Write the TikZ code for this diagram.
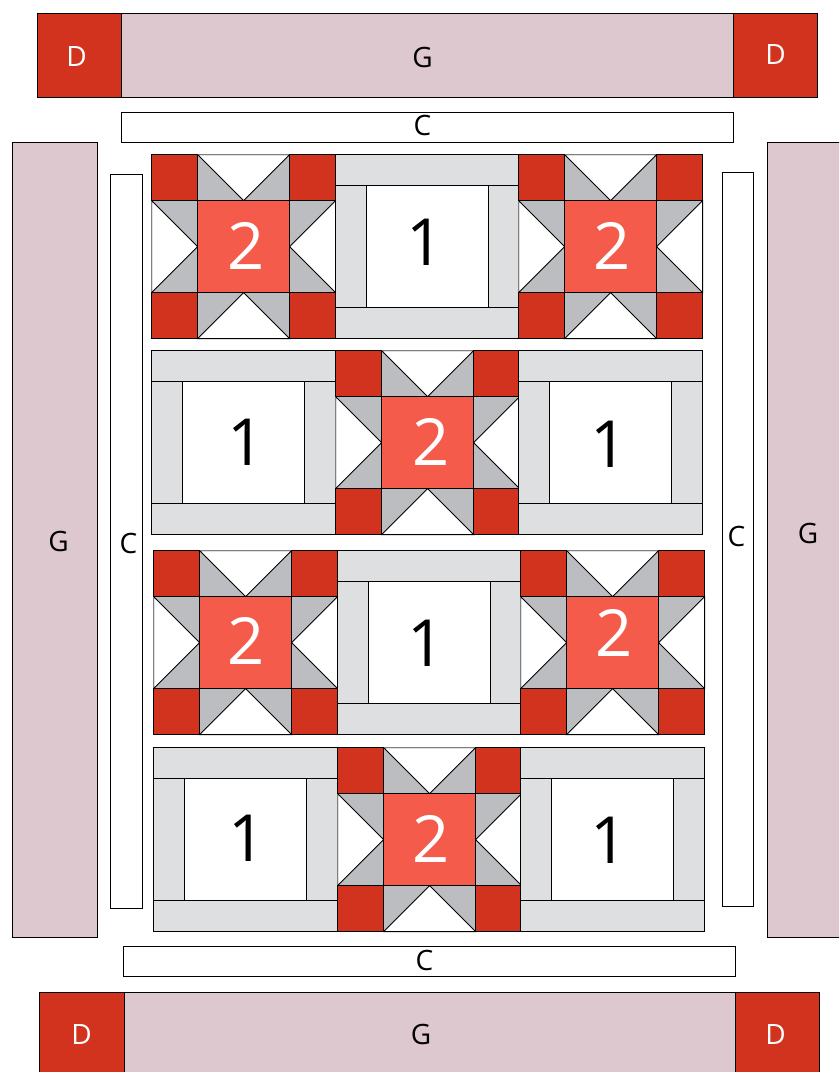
\documentclass[tikz,border=0pt]{standalone}
\usepackage{fontspec}
\setmainfont{Open Sans}
\definecolor{qred}{HTML}{D1331F}
\definecolor{qcoral}{HTML}{F45B4B}
\definecolor{qgray}{HTML}{BCBDC0}
\definecolor{qlight}{HTML}{DDDFE1}
\definecolor{qpink}{HTML}{DDC8D0}
\definecolor{qedge}{HTML}{808080}
\tikzset{
  patch/.style={draw=black,line width=0.85pt,line join=miter},
  redp/.style={patch,fill=qred},
  coralp/.style={patch,fill=qcoral},
  grayp/.style={patch,fill=qgray},
  lightp/.style={patch,fill=qlight},
  pinkp/.style={patch,fill=qpink},
  whitep/.style={patch,fill=white},
  softedge/.style={draw=qedge,line width=0.85pt},
  lab/.style={inner sep=0pt,font=\fontsize{28}{28}\selectfont,text=black},
  labw/.style={lab,text=white},
  big/.style={inner sep=0pt,font=\fontsize{65}{65}\selectfont},
  bigk/.style={big,text=black},
  bigw/.style={big,text=white},
}
% star block: #1 left, #2 top (px, y down)
\newcommand{\starblock}[2]{%
  \begin{scope}[shift={(#1-0.4,-#2+0.4)}]
    \draw[grayp] (46,0) rectangle (138,-46);
    \draw[grayp] (46,-138) rectangle (138,-184);
    \draw[grayp] (0,-46) rectangle (46,-138);
    \draw[grayp] (138,-46) rectangle (184,-138);
    \draw[whitep] (46,0) -- (138,0) -- (92,-46) -- cycle;
    \draw[whitep] (46,-184) -- (138,-184) -- (92,-138) -- cycle;
    \draw[whitep] (0,-46) -- (0,-138) -- (46,-92) -- cycle;
    \draw[whitep] (184,-46) -- (184,-138) -- (138,-92) -- cycle;
    \draw[softedge] (46,0) -- (138,0);
    \draw[softedge] (0,-46) -- (0,-138);
    \draw[coralp] (46,-46) rectangle (138,-138);
    \draw[redp] (0,0) rectangle (46,-46);
    \draw[redp] (138,0) rectangle (184,-46);
    \draw[redp] (0,-138) rectangle (46,-184);
    \draw[redp] (138,-138) rectangle (184,-184);
  \end{scope}}
% frame block
\newcommand{\frameblock}[2]{%
  \begin{scope}[shift={(#1-0.4,-#2+0.4)}]
    \draw[lightp] (0,-30.5) rectangle (30.5,-153);
    \draw[lightp] (153,-30.5) rectangle (184,-153);
    \draw[lightp] (0,0) rectangle (184,-30.5);
    \draw[lightp] (0,-153) rectangle (184,-184);
    \draw[whitep] (30.5,-30.5) rectangle (153,-153);
  \end{scope}}
\begin{document}
\begin{tikzpicture}[x=1pt,y=1pt]
\clip (0,0) rectangle (839,-1072);
\fill[white] (0,0) rectangle (839,-1072);
% top border
\draw[pinkp] (121,-13) rectangle (733,-97);
\draw[redp] (37,-13) rectangle (121,-97);
\draw[redp] (733,-13) rectangle (817,-97);
\draw[whitep] (121,-112) rectangle (733,-142);
% side borders
\draw[pinkp] (12,-142) rectangle (97,-937);
\draw[whitep] (110,-174) rectangle (142,-908);
\draw[whitep] (722,-172) rectangle (753,-906);
\draw[pinkp] (767,-142) rectangle (845,-937);
% bottom border
\draw[whitep] (123,-946) rectangle (735,-976);
\draw[pinkp] (124,-992) rectangle (735,-1080);
\draw[redp] (39,-992) rectangle (124,-1080);
\draw[redp] (735,-992) rectangle (819,-1080);
% blocks
\starblock{152}{155}\frameblock{336}{155}\starblock{519}{155}
\frameblock{152}{351}\starblock{336}{351}\frameblock{519}{351}
\starblock{154}{551}\frameblock{338}{551}\starblock{521}{551}
\frameblock{154}{748}\starblock{338}{748}\frameblock{521}{748}
% labels
\node[labw] (d1) at (76.5,-57) {D};
\node[lab] (g1) at (422.5,-57) {G};
\node[labw] (d2) at (775.5,-55) {D};
\node[lab] (c1) at (422.5,-125) {C};
\node[lab] (g2) at (58.5,-541) {G};
\node[lab] (c2) at (128.5,-543) {C};
\node[lab] (c3) at (736.5,-536) {C};
\node[lab] (g3) at (808,-533) {G};
\node[lab] (c4) at (424.5,-960) {C};
\node[labw] (d3) at (81.5,-1034) {D};
\node[lab] (g4) at (421,-1034) {G};
\node[labw] (d4) at (775.5,-1034) {D};
\node[bigw] (s1) at (246,-246) {2};
\node[bigk] (f1) at (425.5,-242) {1};
\node[bigw] (s2) at (612,-246) {2};
\node[bigk] (f2) at (246.5,-442) {1};
\node[bigw] (s3) at (431,-442) {2};
\node[bigk] (f3) at (609.5,-444) {1};
\node[bigw] (s4) at (246,-641) {2};
\node[bigk] (f4) at (426.5,-643) {1};
\node[bigw] (s5) at (614,-633) {2};
\node[bigk] (f5) at (247.5,-838) {1};
\node[bigw] (s6) at (431,-839) {2};
\node[bigk] (f6) at (609.5,-840) {1};
\end{tikzpicture}
\end{document}
